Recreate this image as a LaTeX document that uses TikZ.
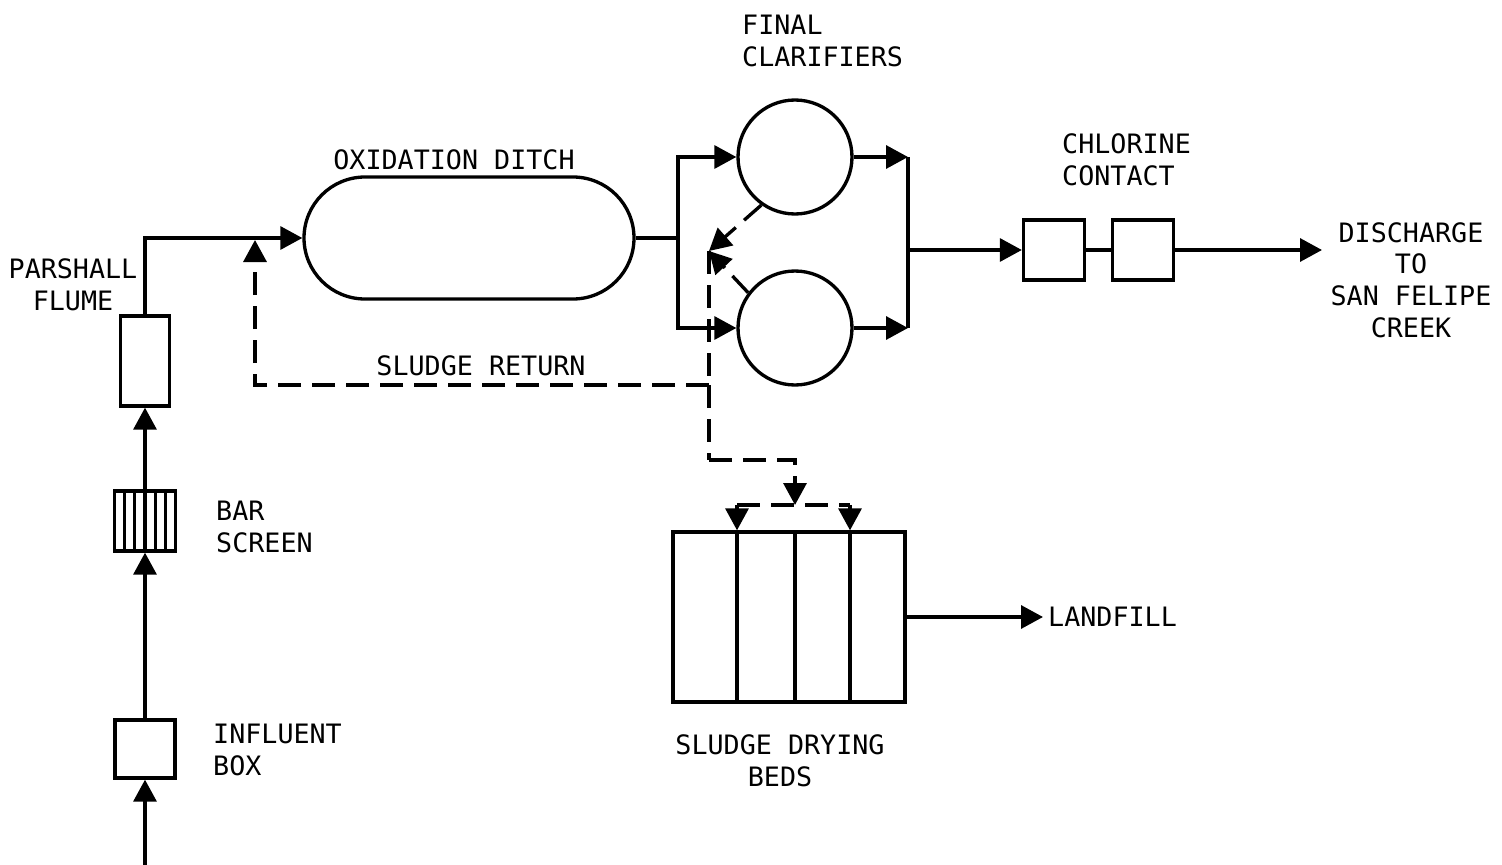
\documentclass[tikz,border=0pt]{standalone}
\usepackage{fontspec}
\setmonofont{DejaVu Sans Mono}
\usetikzlibrary{arrows.meta,shapes.misc}

\begin{document}
\begin{tikzpicture}[x=.1mm,y=-.1mm,line width=.95pt,
	font=\ttfamily\fontsize{7.6}{9}\selectfont,
	lbl/.style={inner sep=1pt},
	box/.style={draw,rectangle,inner sep=0pt},
	tank/.style={draw,circle,inner sep=0pt,minimum size=11.4mm},
	flow/.style={-{Triangle[length=2.2mm,width=2.3mm]}},
	sludge/.style={dash pattern=on 2.3mm off 1.1mm}]
	\useasboundingbox (0,0) rectangle (1502,865);
	% 进水
	\node[box,minimum width=6mm,minimum height=5.8mm] (infl) at (145,749) {};
	\node[lbl,anchor=west,align=left] (linfl) at (208,750) {INFLUENT\\BOX};
	\node[box,minimum width=6.1mm,minimum height=6mm] (bar) at (145,521) {};
	\foreach \x in {124.5,134.8,145,155.2,165.5}
		\draw (\x,491)--(\x,551);%格栅
	\node[lbl,anchor=west,align=left] (lbar) at (211,527) {BAR\\SCREEN};
	\node[box,minimum width=4.9mm,minimum height=9mm] (flume) at (145,361) {};
	\node[lbl,align=center] (lflume) at (73,285) {PARSHALL\\FLUME};
	\coordinate (in) at (145,865);
	\draw[flow] (in)--(infl);
	\draw[flow] (infl)--(bar);
	\draw[flow] (bar)--(flume);
	% 氧化沟
	\node[draw,rounded rectangle,minimum width=33mm,minimum height=12.2mm,inner sep=0pt] (ditch) at (469,238) {};
	\node[lbl] (lditch) at (454,160) {OXIDATION DITCH};
	\draw[flow] (flume.north) |- (ditch.west);
	% 二沉池
	\node[tank] (clarA) at (795,157) {};
	\node[tank] (clarB) at (795,328) {};
	\node[lbl,anchor=west,align=left] (lclar) at (737,41) {FINAL\\CLARIFIERS};
	\coordinate (split) at (678,238);
	\draw (ditch.east)--(split);
	\draw[flow] (split) |- (clarA);
	\draw[flow] (split) |- (clarB);
	\coordinate (mA) at (908,157);
	\coordinate (mB) at (908,328);
	\coordinate (mrg) at (908,250);
	\draw[flow] (clarA)--(mA);
	\draw[flow] (clarB)--(mB);
	\draw (mA)--(mB);
	% 加氯接触
	\node[box,minimum width=6.1mm,minimum height=6mm] (cl1) at (1054,250) {};
	\node[box,minimum width=6.1mm,minimum height=6mm] (cl2) at (1143,250) {};
	\node[lbl,anchor=west,align=left] (lcl) at (1057,160) {CHLORINE\\CONTACT};
	\draw[flow] (mrg)--(cl1);
	\draw (cl1)--(cl2);
	\coordinate (out) at (1322,250);
	\draw[flow] (cl2)--(out);
	\node[lbl,align=center] (ldis) at (1411,280) {DISCHARGE\\TO\\SAN FELIPE\\CREEK};
	% 污泥回流
	\coordinate (sj) at (709,251);
	\coordinate (sr) at (709,385);
	\coordinate (rt) at (255,240);
	\draw[sludge,flow] (clarA.235)--(sj);
	\draw[sludge,flow] (clarB.143)--(sj);
	\draw[sludge] (sj)--(sr);
	\draw[sludge,flow] (sr) -| (rt);
	\node[lbl] (lret) at (481,366) {SLUDGE RETURN};
	% 污泥干化床
	\node[box,minimum width=23.2mm,minimum height=17mm] (beds) at (789,617) {};
	\foreach \x in {737,795,850}
		\draw (\x,532)--(\x,702);
	\node[lbl,align=center] (lbeds) at (780,761) {SLUDGE DRYING\\BEDS};
	\coordinate (sd) at (709,460);
	\coordinate (bd) at (795,505);
	\coordinate (bdA) at (737,505);
	\coordinate (bdB) at (850,505);
	\draw[sludge] (sr)--(sd);
	\draw[sludge,flow] (sd) -| (bd);
	\draw[sludge] (bdA)--(bdB);
	\draw[flow] (bdA)--(bdA |- beds.north);
	\draw[flow] (bdB)--(bdB |- beds.north);
	\node[lbl,anchor=west] (landfill) at (1043,617) {LANDFILL};
	\draw[flow] (beds)--(landfill);
\end{tikzpicture}
\end{document}
